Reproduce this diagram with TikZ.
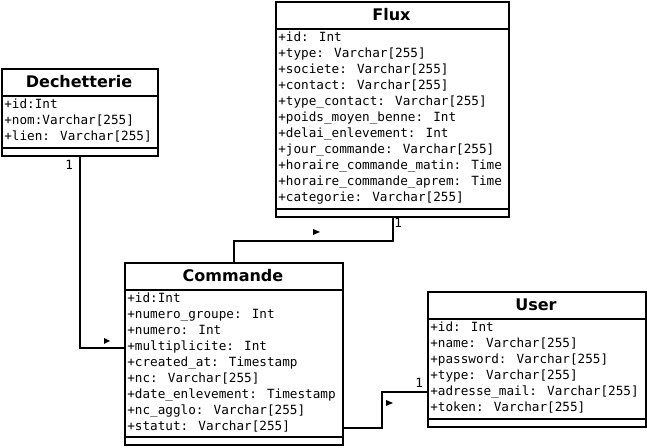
\documentclass[tikz,border=0pt]{standalone}
\usepackage{fontspec}
\newfontfamily\titlefont{DejaVu Sans}
\newfontfamily\attrfont{DejaVu Sans Mono}
\begin{document}
\begin{tikzpicture}[x=0.75pt,y=-0.75pt,
  classbox/.style={draw,line width=1.5pt,fill=white,inner sep=0pt,anchor=north west},
  divider/.style={line width=1.5pt},
  titletext/.style={font=\titlefont\bfseries\fontsize{12pt}{14pt}\selectfont,inner sep=0pt},
  attr/.style={font=\attrfont\fontsize{9.5pt}{12pt}\selectfont,inner sep=0pt,anchor=base west},
  link/.style={line width=1.5pt},
  mult/.style={font=\attrfont\fontsize{9.5pt}{12pt}\selectfont,inner sep=0pt,anchor=base west},
  navtip/.style={fill=black}]
\useasboundingbox (0,0) rectangle (647,448);

% ---------- Dechetterie ----------
\node[classbox,minimum width=156*0.75pt,minimum height=87*0.75pt] (dech) at (1,68) {};
\draw[divider] (1,96) -- (157,96);
\draw[divider] (1,148) -- (157,148);
\node[titletext] (dechT) at (79,82) {Dechetterie};
\node[attr] (d1) at (4,109) {+id:Int};
\node[attr] (d2) at (4,125) {+nom:Varchar[255]};
\node[attr] (d3) at (4,141) {+lien: Varchar[255]};

% ---------- Flux ----------
\node[classbox,minimum width=233*0.75pt,minimum height=215*0.75pt] (flux) at (275,1) {};
\draw[divider] (275,29) -- (508,29);
\draw[divider] (275,209) -- (508,209);
\node[titletext] (fluxT) at (391.5,15) {Flux};
\node[attr] (f1) at (278,42) {+id: Int};
\node[attr] (f2) at (278,58) {+type: Varchar[255]};
\node[attr] (f3) at (278,74) {+societe: Varchar[255]};
\node[attr] (f4) at (278,90) {+contact: Varchar[255]};
\node[attr] (f5) at (278,106) {+type\_contact: Varchar[255]};
\node[attr] (f6) at (278,122) {+poids\_moyen\_benne: Int};
\node[attr] (f7) at (278,138) {+delai\_enlevement: Int};
\node[attr] (f8) at (278,154) {+jour\_commande: Varchar[255]};
\node[attr] (f9) at (278,170) {+horaire\_commande\_matin: Time};
\node[attr] (f10) at (278,186) {+horaire\_commande\_aprem: Time};
\node[attr] (f11) at (278,202) {+categorie: Varchar[255]};

% ---------- Commande ----------
\node[classbox,minimum width=218*0.75pt,minimum height=182*0.75pt] (com) at (124,262) {};
\draw[divider] (124,290) -- (342,290);
\draw[divider] (124,437) -- (342,437);
\node[titletext] (comT) at (233,276) {Commande};
\node[attr] (c1) at (127,303) {+id:Int};
\node[attr] (c2) at (127,319) {+numero\_groupe: Int};
\node[attr] (c3) at (127,335) {+numero: Int};
\node[attr] (c4) at (127,351) {+multiplicite: Int};
\node[attr] (c5) at (127,367) {+created\_at: Timestamp};
\node[attr] (c6) at (127,383) {+nc: Varchar[255]};
\node[attr] (c7) at (127,399) {+date\_enlevement: Timestamp};
\node[attr] (c8) at (127,415) {+nc\_agglo: Varchar[255]};
\node[attr] (c9) at (127,431) {+statut: Varchar[255]};

% ---------- User ----------
\node[classbox,minimum width=218*0.75pt,minimum height=135*0.75pt] (user) at (427,291) {};
\draw[divider] (427,319) -- (645,319);
\draw[divider] (427,419) -- (645,419);
\node[titletext] (userT) at (536,305) {User};
\node[attr] (u1) at (430,332) {+id: Int};
\node[attr] (u2) at (430,348) {+name: Varchar[255]};
\node[attr] (u3) at (430,364) {+password: Varchar[255]};
\node[attr] (u4) at (430,380) {+type: Varchar[255]};
\node[attr] (u5) at (430,396) {+adresse\_mail: Varchar[255]};
\node[attr] (u6) at (430,412) {+token: Varchar[255]};

% ---------- Connectors ----------
\coordinate (dcBend) at (com.west |- 0,348);
\draw[link] (dech.south) |- (dcBend);
\node[mult] (m1) at (65,170) {1};
\fill[navtip] (104,338) -- (110,341) -- (104,344) -- cycle;

\draw[link] (flux.south) -- ++(0,23) -| (com.north);
\node[mult] (m2) at (394,228) {1};
\fill[navtip] (313,229) -- (320,232) -- (313,235) -- cycle;

\coordinate (cuStart) at (com.east |- 0,428);
\coordinate (cuEnd) at (user.west |- 0,392);
\draw[link] (cuStart) -- (382,428) |- (cuEnd);
\node[mult] (m3) at (415,388) {1};
\fill[navtip] (386,400) -- (393,403) -- (386,406) -- cycle;
\end{tikzpicture}
\end{document}
